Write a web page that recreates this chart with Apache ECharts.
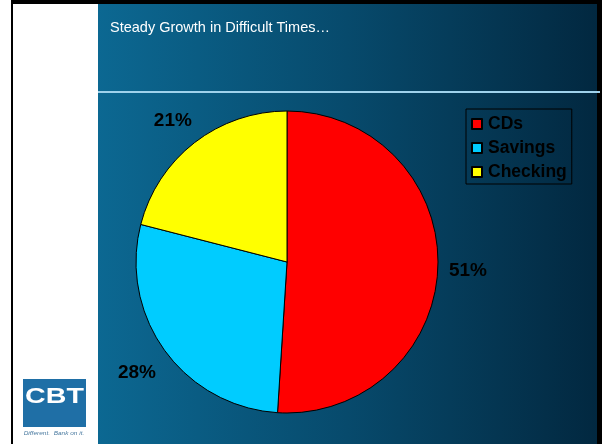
<!DOCTYPE html>
<html>
<head>
<meta charset="utf-8">
<script src="https://cdn.jsdelivr.net/npm/echarts@6/dist/echarts.min.js"></script>
<style>
html,body{margin:0;padding:0;background:#fff;}
#chart{width:602px;height:444px;}
</style>
</head>
<body>
<div id="chart"></div>
<script>
// Data
var categories = ['CDs', 'Savings', 'Checking'];
var values = [51, 28, 21];
var colors = ['#ff0000', '#00ccff', '#ffff00'];
var titleText = 'Steady Growth in Difficult Times\u2026';

var pieData = categories.map(function (c, i) {
  return { name: c, value: values[i], itemStyle: { color: colors[i] } };
});
var labelData = categories.map(function (c, i) {
  return { name: c, value: values[i] };
});

var FONT = '"Liberation Sans", Arial, sans-serif';
var chart = echarts.init(document.getElementById('chart'), null, { renderer: 'canvas' });
chart.setOption({
  animation: false,
  backgroundColor: '#ffffff',
  graphic: [
    { type: 'rect', z: -10, shape: { x: 11, y: 0, width: 591, height: 444 }, style: { fill: '#000000' } },
    { type: 'rect', z: -9, shape: { x: 13, y: 4, width: 86, height: 440 }, style: { fill: '#ffffff' } },
    { type: 'rect', z: -9, shape: { x: 98, y: 4, width: 499, height: 440 },
      style: { fill: new echarts.graphic.LinearGradient(0, 0, 1, 0, [
        { offset: 0, color: '#0c6892' },
        { offset: 0.5, color: '#074a6c' },
        { offset: 1, color: '#022840' }
      ]) } },
    { type: 'rect', z: -8, shape: { x: 98, y: 91, width: 502, height: 2 }, style: { fill: '#9fd2ec' } },
    { type: 'rect', z: -8, shape: { x: 23, y: 379, width: 63, height: 48 }, style: { fill: '#1f6fa6' } },
    { type: 'text', z: -7, x: 54.5, y: 397, scaleX: 1.3,
      style: { text: 'CBT', fill: '#ffffff', font: 'bold 22px ' + FONT, textAlign: 'center', textVerticalAlign: 'middle' } },
    { type: 'text', z: -7, x: 54, y: 434, scaleX: 1.3,
      style: { text: 'Different.  Bank on it.', fill: '#4a7aa0', font: 'italic 5px ' + FONT, textAlign: 'center', textVerticalAlign: 'middle' } }
  ],
  title: {
    text: titleText,
    left: 110,
    top: 20,
    padding: 0,
    textStyle: { color: '#ffffff', fontSize: 14.5, fontWeight: 'normal', fontFamily: FONT }
  },
  legend: {
    orient: 'vertical',
    left: 466,
    top: 109,
    padding: [6, 5, 3, 5],
    itemGap: 6,
    itemWidth: 10,
    itemHeight: 10,
    icon: 'rect',
    borderColor: '#000000',
    borderWidth: 1,
    data: categories,
    textStyle: { color: '#000000', fontSize: 17.5, fontWeight: 'bold', lineHeight: 18, padding: [0, 0, 0, 1], fontFamily: FONT }
  },
  series: [
    {
      type: 'pie',
      center: [287, 262],
      radius: [0, 151],
      startAngle: 90,
      clockwise: true,
      silent: true,
      label: { show: false },
      labelLine: { show: false },
      itemStyle: { borderColor: '#000000', borderWidth: 1 },
      emphasis: { disabled: true },
      data: pieData
    },
    {
      type: 'pie',
      center: [287, 262],
      radius: [170, 190],
      startAngle: 90,
      clockwise: true,
      silent: true,
      legendHoverLink: false,
      itemStyle: { color: 'rgba(0,0,0,0)', borderWidth: 0 },
      emphasis: { disabled: true },
      label: {
        show: true,
        position: 'inside',
        offset: [-2, 3],
        formatter: function (p) { return p.value + '%'; },
        color: '#000000',
        fontSize: 19,
        fontWeight: 'bold',
        fontFamily: FONT
      },
      labelLine: { show: false },
      data: labelData
    }
  ]
});
</script>
</body>
</html>
